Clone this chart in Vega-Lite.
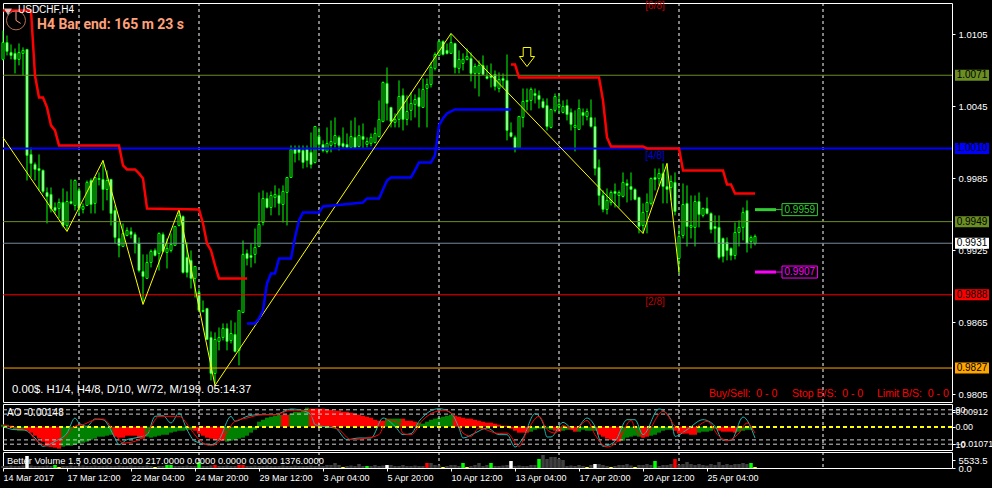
{"$schema":"https://vega.github.io/schema/vega-lite/v6.json","background":"#000000","padding":{"left":-3,"top":0,"right":2,"bottom":5},"spacing":2,"bounds":"flush","resolve":{"scale":{"fill":"independent","stroke":"independent","x":"independent","y":"independent"}},
"config":{"font":"Liberation Sans","view":{"stroke":"#ffffff","strokeWidth":1},"axis":{"grid":false,"domain":false,"labelColor":"#ffffff","tickColor":"#ffffff","labelFont":"Liberation Sans","labelFontSize":9.5,"tickSize":3,"labelPadding":3,"labelOverlap":false,"labelFlush":false},"axisX":{"labels":false,"ticks":false},"text":{"font":"Liberation Sans","fontSize":10,"align":"left"}},
"datasets":{
"bars":[
{"i":0,"o":1.00842,"h":1.01083,"l":1.00833,"c":1.00983,"ao":0.0012,"ac":"g","v":1476,"vc":"n"},
{"i":1,"o":1.00983,"h":1.01041,"l":1.00875,"c":1.00909,"ao":0.0012,"ac":"g","v":1476,"vc":"n"},
{"i":2,"o":1.009,"h":1.00967,"l":1.00842,"c":1.00875,"ao":0.0006,"ac":"r","v":1845,"vc":"n"},
{"i":3,"o":1.00892,"h":1.00933,"l":1.00725,"c":1.00842,"ao":-0.0019,"ac":"g","v":1476,"vc":"n"},
{"i":4,"o":1.00842,"h":1.00975,"l":1.00792,"c":1.009,"ao":-0.0025,"ac":"g","v":1476,"vc":"n"},
{"i":5,"o":1.00892,"h":1.00942,"l":1.00708,"c":1.00917,"ao":-0.0025,"ac":"g","v":1845,"vc":"n"},
{"i":6,"o":1.00925,"h":1.00925,"l":0.99833,"c":1.00042,"ao":-0.0025,"ac":"r","v":8856,"vc":"w"},
{"i":7,"o":1.0005,"h":1.00108,"l":0.99858,"c":0.99975,"ao":-0.0037,"ac":"r","v":1845,"vc":"n"},
{"i":8,"o":0.99967,"h":0.99983,"l":0.99833,"c":0.99925,"ao":-0.0056,"ac":"r","v":1476,"vc":"n"},
{"i":9,"o":0.99933,"h":1.0005,"l":0.9975,"c":0.99917,"ao":-0.0074,"ac":"r","v":1476,"vc":"n"},
{"i":10,"o":0.99917,"h":0.99925,"l":0.99725,"c":0.99742,"ao":-0.0093,"ac":"r","v":1476,"vc":"n"},
{"i":11,"o":0.99733,"h":0.99775,"l":0.99475,"c":0.997,"ao":-0.0118,"ac":"r","v":1845,"vc":"n"},
{"i":12,"o":0.99717,"h":0.99775,"l":0.99567,"c":0.996,"ao":-0.0124,"ac":"r","v":1476,"vc":"n"},
{"i":13,"o":0.99608,"h":0.9965,"l":0.99558,"c":0.99583,"ao":-0.013,"ac":"r","v":2214,"vc":"g"},
{"i":14,"o":0.996,"h":0.99683,"l":0.99517,"c":0.9965,"ao":-0.0136,"ac":"r","v":738,"vc":"y"},
{"i":15,"o":0.9965,"h":0.99767,"l":0.99442,"c":0.99458,"ao":-0.0124,"ac":"g","v":1476,"vc":"n"},
{"i":16,"o":0.99458,"h":0.99742,"l":0.99417,"c":0.99658,"ao":-0.0118,"ac":"g","v":1476,"vc":"n"},
{"i":17,"o":0.99658,"h":0.99842,"l":0.99633,"c":0.99642,"ao":-0.0118,"ac":"g","v":1845,"vc":"n"},
{"i":18,"o":0.99625,"h":0.99842,"l":0.99583,"c":0.99833,"ao":-0.0112,"ac":"g","v":1476,"vc":"n"},
{"i":19,"o":0.9975,"h":0.99775,"l":0.99542,"c":0.996,"ao":-0.0105,"ac":"g","v":1476,"vc":"n"},
{"i":20,"o":0.99592,"h":0.99642,"l":0.99558,"c":0.99617,"ao":-0.0099,"ac":"g","v":1845,"vc":"n"},
{"i":21,"o":0.99625,"h":0.99833,"l":0.99625,"c":0.99817,"ao":-0.0093,"ac":"g","v":1476,"vc":"n"},
{"i":22,"o":0.99833,"h":0.9985,"l":0.99558,"c":0.99633,"ao":-0.0081,"ac":"g","v":1476,"vc":"n"},
{"i":23,"o":0.99642,"h":0.99858,"l":0.99558,"c":0.99858,"ao":-0.0074,"ac":"g","v":1845,"vc":"n"},
{"i":24,"o":0.9985,"h":0.999,"l":0.99792,"c":0.99842,"ao":-0.0062,"ac":"g","v":1476,"vc":"n"},
{"i":25,"o":0.99842,"h":1.0,"l":0.99583,"c":0.99758,"ao":-0.0062,"ac":"g","v":1476,"vc":"n"},
{"i":26,"o":0.99758,"h":0.99917,"l":0.99667,"c":0.99833,"ao":-0.0056,"ac":"g","v":1845,"vc":"n"},
{"i":27,"o":0.99842,"h":0.99842,"l":0.99458,"c":0.99558,"ao":-0.005,"ac":"g","v":1476,"vc":"n"},
{"i":28,"o":0.99583,"h":0.99625,"l":0.99308,"c":0.99358,"ao":-0.0062,"ac":"r","v":1476,"vc":"n"},
{"i":29,"o":0.9935,"h":0.99483,"l":0.99192,"c":0.99292,"ao":-0.0068,"ac":"r","v":1845,"vc":"n"},
{"i":30,"o":0.99283,"h":0.99475,"l":0.99283,"c":0.99392,"ao":-0.0068,"ac":"r","v":1476,"vc":"n"},
{"i":31,"o":0.99375,"h":0.99442,"l":0.99367,"c":0.99417,"ao":-0.0056,"ac":"r","v":1476,"vc":"n"},
{"i":32,"o":0.99408,"h":0.99442,"l":0.9935,"c":0.99383,"ao":-0.0056,"ac":"r","v":1845,"vc":"n"},
{"i":33,"o":0.99383,"h":0.994,"l":0.99225,"c":0.99308,"ao":-0.0056,"ac":"r","v":1476,"vc":"n"},
{"i":34,"o":0.99308,"h":0.99358,"l":0.99067,"c":0.99083,"ao":-0.0068,"ac":"r","v":1476,"vc":"n"},
{"i":35,"o":0.99075,"h":0.99217,"l":0.98817,"c":0.99033,"ao":-0.0074,"ac":"r","v":1476,"vc":"n"},
{"i":36,"o":0.99017,"h":0.99217,"l":0.99017,"c":0.9915,"ao":-0.0062,"ac":"g","v":1845,"vc":"n"},
{"i":37,"o":0.9915,"h":0.99258,"l":0.99108,"c":0.99242,"ao":-0.0068,"ac":"g","v":1476,"vc":"n"},
{"i":38,"o":0.9925,"h":0.99267,"l":0.992,"c":0.99208,"ao":-0.0062,"ac":"g","v":738,"vc":"y"},
{"i":39,"o":0.99225,"h":0.994,"l":0.99083,"c":0.99392,"ao":-0.0056,"ac":"g","v":1476,"vc":"n"},
{"i":40,"o":0.99383,"h":0.994,"l":0.99233,"c":0.99242,"ao":-0.005,"ac":"g","v":1476,"vc":"n"},
{"i":41,"o":0.99233,"h":0.9935,"l":0.991,"c":0.99267,"ao":-0.005,"ac":"g","v":2214,"vc":"g"},
{"i":42,"o":0.9925,"h":0.99392,"l":0.99233,"c":0.993,"ao":-0.0037,"ac":"g","v":2214,"vc":"g"},
{"i":43,"o":0.99292,"h":0.9945,"l":0.99292,"c":0.9945,"ao":-0.0031,"ac":"g","v":1476,"vc":"n"},
{"i":44,"o":0.99458,"h":0.99583,"l":0.9945,"c":0.99542,"ao":-0.0025,"ac":"g","v":1476,"vc":"n"},
{"i":45,"o":0.99533,"h":0.99542,"l":0.99058,"c":0.99067,"ao":-0.0025,"ac":"g","v":1476,"vc":"n"},
{"i":46,"o":0.99192,"h":0.99317,"l":0.99025,"c":0.99067,"ao":-0.0019,"ac":"g","v":1845,"vc":"n"},
{"i":47,"o":0.99167,"h":0.9925,"l":0.98933,"c":0.99017,"ao":-0.0019,"ac":"g","v":1476,"vc":"n"},
{"i":48,"o":0.99017,"h":0.99117,"l":0.98858,"c":0.99117,"ao":-0.0025,"ac":"r","v":1476,"vc":"n"},
{"i":49,"o":0.989,"h":0.98933,"l":0.9875,"c":0.9875,"ao":-0.0043,"ac":"r","v":4428,"vc":"g"},
{"i":50,"o":0.9875,"h":0.98833,"l":0.98733,"c":0.98742,"ao":-0.0056,"ac":"r","v":1476,"vc":"n"},
{"i":51,"o":0.98767,"h":0.98767,"l":0.98508,"c":0.98508,"ao":-0.0068,"ac":"r","v":1476,"vc":"n"},
{"i":52,"o":0.98525,"h":0.98575,"l":0.98167,"c":0.98225,"ao":-0.0074,"ac":"r","v":1845,"vc":"n"},
{"i":53,"o":0.98225,"h":0.98567,"l":0.98142,"c":0.98508,"ao":-0.0081,"ac":"r","v":2214,"vc":"r"},
{"i":54,"o":0.98492,"h":0.98608,"l":0.98417,"c":0.98525,"ao":-0.0087,"ac":"r","v":1476,"vc":"n"},
{"i":55,"o":0.98525,"h":0.98642,"l":0.985,"c":0.986,"ao":-0.0087,"ac":"r","v":1476,"vc":"n"},
{"i":56,"o":0.986,"h":0.98642,"l":0.98417,"c":0.98492,"ao":-0.0093,"ac":"g","v":1845,"vc":"n"},
{"i":57,"o":0.985,"h":0.98667,"l":0.98475,"c":0.98558,"ao":-0.0087,"ac":"g","v":1476,"vc":"n"},
{"i":58,"o":0.9855,"h":0.9865,"l":0.984,"c":0.98408,"ao":-0.0081,"ac":"g","v":1476,"vc":"n"},
{"i":59,"o":0.98417,"h":0.9875,"l":0.98292,"c":0.9875,"ao":-0.0074,"ac":"g","v":2214,"vc":"r"},
{"i":60,"o":0.98733,"h":0.99333,"l":0.98733,"c":0.99217,"ao":-0.0068,"ac":"g","v":2214,"vc":"r"},
{"i":61,"o":0.99225,"h":0.99258,"l":0.99125,"c":0.99183,"ao":-0.0056,"ac":"g","v":1476,"vc":"n"},
{"i":62,"o":0.99208,"h":0.99308,"l":0.99108,"c":0.99192,"ao":-0.0037,"ac":"g","v":1476,"vc":"n"},
{"i":63,"o":0.99217,"h":0.99433,"l":0.99142,"c":0.99275,"ao":-0.0019,"ac":"g","v":1845,"vc":"n"},
{"i":64,"o":0.99283,"h":0.99733,"l":0.99283,"c":0.99467,"ao":0.0031,"ac":"g","v":1476,"vc":"n"},
{"i":65,"o":0.99483,"h":0.9975,"l":0.99458,"c":0.99683,"ao":0.0043,"ac":"g","v":1476,"vc":"n"},
{"i":66,"o":0.99683,"h":0.99733,"l":0.996,"c":0.99608,"ao":0.0056,"ac":"g","v":1845,"vc":"n"},
{"i":67,"o":0.99608,"h":0.99742,"l":0.99542,"c":0.99708,"ao":0.0062,"ac":"g","v":1476,"vc":"n"},
{"i":68,"o":0.99692,"h":0.99792,"l":0.99608,"c":0.99717,"ao":0.0068,"ac":"g","v":1476,"vc":"n"},
{"i":69,"o":0.99708,"h":0.99767,"l":0.99542,"c":0.99642,"ao":0.0074,"ac":"g","v":1476,"vc":"n"},
{"i":70,"o":0.99633,"h":0.99792,"l":0.99483,"c":0.99742,"ao":0.0074,"ac":"r","v":1845,"vc":"n"},
{"i":71,"o":0.99733,"h":0.99858,"l":0.99458,"c":0.99858,"ao":0.0074,"ac":"r","v":1476,"vc":"n"},
{"i":72,"o":0.99858,"h":1.00125,"l":0.99858,"c":1.00092,"ao":0.0081,"ac":"g","v":1476,"vc":"n"},
{"i":73,"o":1.001,"h":1.00125,"l":0.99983,"c":1.00058,"ao":0.0093,"ac":"g","v":1845,"vc":"n"},
{"i":74,"o":1.001,"h":1.00125,"l":1.0,"c":1.00067,"ao":0.0093,"ac":"g","v":1476,"vc":"n"},
{"i":75,"o":1.00083,"h":1.00125,"l":0.99933,"c":0.99983,"ao":0.0099,"ac":"g","v":1476,"vc":"n"},
{"i":76,"o":1.00092,"h":1.00125,"l":0.99942,"c":1.0,"ao":0.0118,"ac":"g","v":1476,"vc":"n"},
{"i":77,"o":1.00067,"h":1.00233,"l":0.99933,"c":0.99967,"ao":0.0112,"ac":"r","v":1845,"vc":"n"},
{"i":78,"o":0.99983,"h":1.00283,"l":0.99975,"c":1.00283,"ao":0.0112,"ac":"r","v":1476,"vc":"n"},
{"i":79,"o":1.002,"h":1.00275,"l":1.00083,"c":1.00133,"ao":0.0112,"ac":"r","v":1476,"vc":"n"},
{"i":80,"o":1.00133,"h":1.00167,"l":1.00067,"c":1.00083,"ao":0.0112,"ac":"r","v":1476,"vc":"n"},
{"i":81,"o":1.00075,"h":1.00275,"l":1.00058,"c":1.00142,"ao":0.0105,"ac":"r","v":2214,"vc":"n"},
{"i":82,"o":1.00125,"h":1.00333,"l":1.00067,"c":1.00158,"ao":0.0105,"ac":"r","v":2214,"vc":"n"},
{"i":83,"o":1.00142,"h":1.00358,"l":1.00108,"c":1.00208,"ao":0.0099,"ac":"r","v":3690,"vc":"n"},
{"i":84,"o":1.00192,"h":1.00208,"l":1.00083,"c":1.00125,"ao":0.0099,"ac":"r","v":2214,"vc":"n"},
{"i":85,"o":1.00142,"h":1.00275,"l":1.001,"c":1.00117,"ao":0.0093,"ac":"r","v":738,"vc":"y"},
{"i":86,"o":1.00133,"h":1.00225,"l":1.001,"c":1.00108,"ao":0.0093,"ac":"r","v":1476,"vc":"n"},
{"i":87,"o":1.00108,"h":1.00333,"l":1.001,"c":1.002,"ao":0.0087,"ac":"r","v":1845,"vc":"n"},
{"i":88,"o":1.00192,"h":1.00358,"l":1.001,"c":1.00108,"ao":0.0081,"ac":"r","v":1476,"vc":"n"},
{"i":89,"o":1.00117,"h":1.00292,"l":1.00108,"c":1.00208,"ao":0.0074,"ac":"r","v":2952,"vc":"n"},
{"i":90,"o":1.002,"h":1.00308,"l":1.001,"c":1.00175,"ao":0.0068,"ac":"r","v":1476,"vc":"n"},
{"i":91,"o":1.00133,"h":1.00192,"l":1.00108,"c":1.00158,"ao":0.0062,"ac":"r","v":1476,"vc":"g"},
{"i":92,"o":1.00142,"h":1.00225,"l":1.00117,"c":1.00192,"ao":0.0056,"ac":"r","v":1476,"vc":"n"},
{"i":93,"o":1.0015,"h":1.00275,"l":1.00142,"c":1.00225,"ao":0.0043,"ac":"r","v":2214,"vc":"n"},
{"i":94,"o":1.002,"h":1.005,"l":1.00192,"c":1.00342,"ao":0.0037,"ac":"r","v":1476,"vc":"n"},
{"i":95,"o":1.00325,"h":1.00658,"l":1.00317,"c":1.0065,"ao":0.0037,"ac":"r","v":1845,"vc":"n"},
{"i":96,"o":1.00642,"h":1.00775,"l":1.00333,"c":1.00475,"ao":0.005,"ac":"g","v":2214,"vc":"w"},
{"i":97,"o":1.00442,"h":1.00442,"l":1.00275,"c":1.00325,"ao":0.005,"ac":"g","v":2214,"vc":"n"},
{"i":98,"o":1.00317,"h":1.00392,"l":1.00275,"c":1.00342,"ao":0.005,"ac":"g","v":1476,"vc":"n"},
{"i":99,"o":1.00342,"h":1.00667,"l":1.00275,"c":1.00533,"ao":0.005,"ac":"g","v":1476,"vc":"n"},
{"i":100,"o":1.00542,"h":1.006,"l":1.0025,"c":1.00342,"ao":0.005,"ac":"r","v":2214,"vc":"n"},
{"i":101,"o":1.00342,"h":1.00542,"l":1.00292,"c":1.00408,"ao":0.0037,"ac":"r","v":1476,"vc":"n"},
{"i":102,"o":1.00417,"h":1.00567,"l":1.00333,"c":1.00475,"ao":0.0037,"ac":"r","v":1476,"vc":"n"},
{"i":103,"o":1.00467,"h":1.0055,"l":1.00358,"c":1.00508,"ao":0.0031,"ac":"r","v":1845,"vc":"n"},
{"i":104,"o":1.00525,"h":1.006,"l":1.00275,"c":1.0045,"ao":0.0025,"ac":"g","v":1476,"vc":"n"},
{"i":105,"o":1.00442,"h":1.00683,"l":1.00442,"c":1.00592,"ao":0.0019,"ac":"g","v":1476,"vc":"n"},
{"i":106,"o":1.006,"h":1.00683,"l":1.00275,"c":1.00633,"ao":0.0031,"ac":"g","v":3690,"vc":"r"},
{"i":107,"o":1.00633,"h":1.00817,"l":1.00608,"c":1.00775,"ao":0.0043,"ac":"g","v":3690,"vc":"n"},
{"i":108,"o":1.00767,"h":1.009,"l":1.0075,"c":1.00883,"ao":0.005,"ac":"g","v":2214,"vc":"n"},
{"i":109,"o":1.00875,"h":1.01,"l":1.00867,"c":1.00992,"ao":0.0056,"ac":"g","v":1845,"vc":"n"},
{"i":110,"o":1.00992,"h":1.01,"l":1.00875,"c":1.00883,"ao":0.0062,"ac":"g","v":738,"vc":"y"},
{"i":111,"o":1.00917,"h":1.00975,"l":1.00883,"c":1.00892,"ao":0.0068,"ac":"g","v":1476,"vc":"n"},
{"i":112,"o":1.00892,"h":1.01058,"l":1.00892,"c":1.00983,"ao":0.0074,"ac":"g","v":2214,"vc":"n"},
{"i":113,"o":1.00975,"h":1.00975,"l":1.00725,"c":1.00775,"ao":0.0068,"ac":"r","v":2214,"vc":"n"},
{"i":114,"o":1.00767,"h":1.00917,"l":1.00725,"c":1.00842,"ao":0.0062,"ac":"r","v":1476,"vc":"n"},
{"i":115,"o":1.00808,"h":1.00892,"l":1.0075,"c":1.00842,"ao":0.0056,"ac":"r","v":3690,"vc":"g"},
{"i":116,"o":1.00842,"h":1.00933,"l":1.00833,"c":1.00867,"ao":0.005,"ac":"r","v":738,"vc":"y"},
{"i":117,"o":1.0085,"h":1.009,"l":1.00658,"c":1.00725,"ao":0.005,"ac":"r","v":1476,"vc":"n"},
{"i":118,"o":1.00725,"h":1.00808,"l":1.006,"c":1.00783,"ao":0.0043,"ac":"r","v":2214,"vc":"n"},
{"i":119,"o":1.00725,"h":1.00833,"l":1.00533,"c":1.00792,"ao":0.0037,"ac":"r","v":3690,"vc":"n"},
{"i":120,"o":1.00792,"h":1.00875,"l":1.00725,"c":1.00717,"ao":0.0031,"ac":"r","v":1476,"vc":"n"},
{"i":121,"o":1.007,"h":1.00792,"l":1.00675,"c":1.00683,"ao":0.0025,"ac":"r","v":2214,"vc":"n"},
{"i":122,"o":1.00708,"h":1.00808,"l":1.00608,"c":1.00692,"ao":0.0025,"ac":"r","v":3690,"vc":"g"},
{"i":123,"o":1.00717,"h":1.0075,"l":1.00583,"c":1.00617,"ao":0.0019,"ac":"r","v":1476,"vc":"n"},
{"i":124,"o":1.006,"h":1.00733,"l":1.00567,"c":1.00675,"ao":0.0012,"ac":"r","v":1476,"vc":"n"},
{"i":125,"o":1.00683,"h":1.00725,"l":1.00608,"c":1.00667,"ao":0.0006,"ac":"r","v":1845,"vc":"n"},
{"i":126,"o":1.00667,"h":1.00883,"l":1.00167,"c":1.0025,"ao":0.0006,"ac":"r","v":2214,"vc":"n"},
{"i":127,"o":1.00233,"h":1.00317,"l":1.00192,"c":1.002,"ao":-0.0012,"ac":"r","v":5166,"vc":"w"},
{"i":128,"o":1.00192,"h":1.00208,"l":1.00067,"c":1.001,"ao":-0.0025,"ac":"r","v":1476,"vc":"n"},
{"i":129,"o":1.001,"h":1.00367,"l":1.001,"c":1.00367,"ao":-0.0037,"ac":"r","v":1845,"vc":"n"},
{"i":130,"o":1.00358,"h":1.006,"l":1.00275,"c":1.00492,"ao":-0.0037,"ac":"r","v":1476,"vc":"n"},
{"i":131,"o":1.005,"h":1.006,"l":1.00417,"c":1.00492,"ao":-0.0037,"ac":"r","v":1476,"vc":"n"},
{"i":132,"o":1.005,"h":1.00608,"l":1.00417,"c":1.00592,"ao":-0.0031,"ac":"g","v":2214,"vc":"n"},
{"i":133,"o":1.00558,"h":1.006,"l":1.00475,"c":1.00542,"ao":-0.0019,"ac":"g","v":2214,"vc":"n"},
{"i":134,"o":1.00542,"h":1.00583,"l":1.00433,"c":1.00508,"ao":-0.0012,"ac":"g","v":6642,"vc":"g"},
{"i":135,"o":1.00492,"h":1.00517,"l":1.00433,"c":1.00442,"ao":-0.0012,"ac":"g","v":9594,"vc":"n"},
{"i":136,"o":1.00458,"h":1.00517,"l":1.0025,"c":1.00283,"ao":-0.0012,"ac":"g","v":6642,"vc":"n"},
{"i":137,"o":1.00275,"h":1.00425,"l":1.00267,"c":1.00425,"ao":-0.0019,"ac":"g","v":8118,"vc":"n"},
{"i":138,"o":1.00417,"h":1.00558,"l":1.004,"c":1.00533,"ao":-0.0025,"ac":"r","v":8118,"vc":"n"},
{"i":139,"o":1.0045,"h":1.00558,"l":1.00392,"c":1.00467,"ao":-0.0031,"ac":"r","v":6642,"vc":"n"},
{"i":140,"o":1.004,"h":1.005,"l":1.00392,"c":1.0045,"ao":-0.0025,"ac":"g","v":5904,"vc":"n"},
{"i":141,"o":1.00458,"h":1.00508,"l":1.00333,"c":1.00383,"ao":-0.0019,"ac":"g","v":1476,"vc":"n"},
{"i":142,"o":1.004,"h":1.00433,"l":1.0025,"c":1.003,"ao":-0.0019,"ac":"r","v":1845,"vc":"n"},
{"i":143,"o":1.00275,"h":1.00417,"l":1.00075,"c":1.00292,"ao":-0.0031,"ac":"r","v":1476,"vc":"n"},
{"i":144,"o":1.00258,"h":1.00508,"l":1.00258,"c":1.00433,"ao":-0.0031,"ac":"g","v":2214,"vc":"n"},
{"i":145,"o":1.004,"h":1.00433,"l":1.00292,"c":1.00375,"ao":-0.0019,"ac":"g","v":1476,"vc":"n"},
{"i":146,"o":1.00367,"h":1.00433,"l":1.00333,"c":1.00408,"ao":-0.0025,"ac":"g","v":738,"vc":"y"},
{"i":147,"o":1.00358,"h":1.00508,"l":1.00275,"c":1.00283,"ao":-0.0025,"ac":"g","v":2214,"vc":"n"},
{"i":148,"o":1.00283,"h":1.00358,"l":0.99875,"c":0.99933,"ao":-0.0025,"ac":"g","v":2952,"vc":"w"},
{"i":149,"o":0.99942,"h":1.00008,"l":0.99625,"c":0.99708,"ao":-0.005,"ac":"r","v":2952,"vc":"n"},
{"i":150,"o":0.99708,"h":0.9975,"l":0.99567,"c":0.99592,"ao":-0.0062,"ac":"r","v":2214,"vc":"n"},
{"i":151,"o":0.99592,"h":0.99767,"l":0.9955,"c":0.99667,"ao":-0.0074,"ac":"r","v":1476,"vc":"n"},
{"i":152,"o":0.9965,"h":0.9975,"l":0.99625,"c":0.99733,"ao":-0.0081,"ac":"r","v":738,"vc":"y"},
{"i":153,"o":0.99742,"h":0.99808,"l":0.99608,"c":0.99725,"ao":-0.0087,"ac":"r","v":1476,"vc":"n"},
{"i":154,"o":0.99708,"h":0.9975,"l":0.99608,"c":0.99733,"ao":-0.0093,"ac":"r","v":2214,"vc":"n"},
{"i":155,"o":0.997,"h":0.999,"l":0.99692,"c":0.99817,"ao":-0.0087,"ac":"g","v":2214,"vc":"n"},
{"i":156,"o":0.99808,"h":0.99842,"l":0.9965,"c":0.99792,"ao":-0.0068,"ac":"g","v":2952,"vc":"n"},
{"i":157,"o":0.99783,"h":0.999,"l":0.99667,"c":0.99758,"ao":-0.0062,"ac":"g","v":1845,"vc":"n"},
{"i":158,"o":0.99758,"h":0.99767,"l":0.99667,"c":0.99675,"ao":-0.0056,"ac":"g","v":738,"vc":"y"},
{"i":159,"o":0.99692,"h":0.99692,"l":0.99392,"c":0.9945,"ao":-0.0062,"ac":"g","v":2214,"vc":"n"},
{"i":160,"o":0.99458,"h":0.99642,"l":0.99392,"c":0.99567,"ao":-0.0068,"ac":"r","v":2214,"vc":"n"},
{"i":161,"o":0.99575,"h":0.99725,"l":0.99392,"c":0.9965,"ao":-0.0062,"ac":"r","v":2952,"vc":"n"},
{"i":162,"o":0.99642,"h":0.99858,"l":0.99625,"c":0.9985,"ao":-0.0056,"ac":"g","v":2214,"vc":"n"},
{"i":163,"o":0.99858,"h":0.99933,"l":0.9975,"c":0.99842,"ao":-0.005,"ac":"g","v":5166,"vc":"g"},
{"i":164,"o":0.9985,"h":0.99933,"l":0.99792,"c":0.99892,"ao":-0.0037,"ac":"g","v":1476,"vc":"n"},
{"i":165,"o":0.99892,"h":0.99975,"l":0.99642,"c":0.99783,"ao":-0.0025,"ac":"g","v":2214,"vc":"n"},
{"i":166,"o":0.99783,"h":0.99975,"l":0.99642,"c":0.99758,"ao":-0.0019,"ac":"g","v":2214,"vc":"n"},
{"i":167,"o":0.99775,"h":0.99875,"l":0.99667,"c":0.99825,"ao":-0.0019,"ac":"g","v":2952,"vc":"n"},
{"i":168,"o":0.99817,"h":0.999,"l":0.99542,"c":0.99575,"ao":-0.0025,"ac":"r","v":6642,"vc":"r"},
{"i":169,"o":0.99183,"h":0.99442,"l":0.99058,"c":0.99367,"ao":-0.0043,"ac":"r","v":2214,"vc":"n"},
{"i":170,"o":0.99375,"h":0.99808,"l":0.9935,"c":0.99633,"ao":-0.0043,"ac":"r","v":2952,"vc":"n"},
{"i":171,"o":0.99642,"h":0.99792,"l":0.99283,"c":0.9945,"ao":-0.0043,"ac":"r","v":4428,"vc":"n"},
{"i":172,"o":0.99442,"h":0.99708,"l":0.9935,"c":0.99458,"ao":-0.005,"ac":"r","v":2952,"vc":"n"},
{"i":173,"o":0.99442,"h":0.99708,"l":0.99283,"c":0.99658,"ao":-0.005,"ac":"r","v":2214,"vc":"n"},
{"i":174,"o":0.99658,"h":0.99733,"l":0.99442,"c":0.9955,"ao":-0.0037,"ac":"g","v":2952,"vc":"n"},
{"i":175,"o":0.99542,"h":0.99608,"l":0.99525,"c":0.996,"ao":-0.0031,"ac":"g","v":2214,"vc":"n"},
{"i":176,"o":0.996,"h":0.99692,"l":0.9955,"c":0.99558,"ao":-0.0031,"ac":"g","v":1845,"vc":"n"},
{"i":177,"o":0.99558,"h":0.99567,"l":0.99392,"c":0.99425,"ao":-0.0025,"ac":"g","v":2952,"vc":"n"},
{"i":178,"o":0.9945,"h":0.99542,"l":0.99308,"c":0.99433,"ao":-0.0012,"ac":"g","v":2214,"vc":"n"},
{"i":179,"o":0.99442,"h":0.99542,"l":0.99175,"c":0.99192,"ao":-0.0025,"ac":"r","v":4428,"vc":"n"},
{"i":180,"o":0.9935,"h":0.99358,"l":0.9915,"c":0.992,"ao":-0.0031,"ac":"r","v":2214,"vc":"n"},
{"i":181,"o":0.99317,"h":0.99358,"l":0.99167,"c":0.9925,"ao":-0.0031,"ac":"r","v":2952,"vc":"n"},
{"i":182,"o":0.99267,"h":0.99275,"l":0.99167,"c":0.99208,"ao":-0.0031,"ac":"r","v":2214,"vc":"n"},
{"i":183,"o":0.99208,"h":0.99483,"l":0.99175,"c":0.994,"ao":-0.0037,"ac":"r","v":2952,"vc":"n"},
{"i":184,"o":0.994,"h":0.995,"l":0.99283,"c":0.99442,"ao":-0.0031,"ac":"g","v":2952,"vc":"n"},
{"i":185,"o":0.99442,"h":0.99608,"l":0.99333,"c":0.99567,"ao":-0.0025,"ac":"g","v":3690,"vc":"n"},
{"i":186,"o":0.99583,"h":0.99667,"l":0.99233,"c":0.99308,"ao":-0.0019,"ac":"g","v":2952,"vc":"n"},
{"i":187,"o":0.99325,"h":0.99375,"l":0.99267,"c":0.99358,"ao":-0.0019,"ac":"g","v":3690,"vc":"g"},
{"i":188,"o":0.99308,"h":0.99383,"l":0.99292,"c":0.99367,"ao":-0.0006,"ac":"g","v":738,"vc":"y"}
],
"stops":[
{"i":0,"p":1.0125,"s":"a"},{"i":7,"p":1.0125,"s":"a"},{"i":8,"p":1.00708,"s":"a"},{"i":9,"p":1.00525,"s":"a"},{"i":10,"p":1.00525,"s":"a"},{"i":11,"p":1.00442,"s":"a"},{"i":12,"p":1.00292,"s":"a"},{"i":13,"p":1.0025,"s":"a"},{"i":14,"p":1.00125,"s":"a"},{"i":29,"p":1.00125,"s":"a"},{"i":30,"p":0.99958,"s":"a"},{"i":31,"p":0.99925,"s":"a"},{"i":33,"p":0.99925,"s":"a"},{"i":34,"p":0.99892,"s":"a"},{"i":35,"p":0.9985,"s":"a"},{"i":36,"p":0.996,"s":"a"},{"i":49,"p":0.99592,"s":"a"},{"i":50,"p":0.99475,"s":"a"},{"i":51,"p":0.99308,"s":"a"},{"i":52,"p":0.9925,"s":"a"},{"i":53,"p":0.99125,"s":"a"},{"i":54,"p":0.99017,"s":"a"},{"i":61,"p":0.99017,"s":"a"},
{"i":127,"p":1.008,"s":"b"},{"i":128,"p":1.008,"s":"b"},{"i":129,"p":1.00692,"s":"b"},{"i":149,"p":1.00692,"s":"b"},{"i":150,"p":1.005,"s":"b"},{"i":151,"p":1.00192,"s":"b"},{"i":152,"p":1.00117,"s":"b"},{"i":160,"p":1.00117,"s":"b"},{"i":161,"p":1.001,"s":"b"},{"i":169,"p":1.001,"s":"b"},{"i":170,"p":0.99917,"s":"b"},{"i":180,"p":0.99917,"s":"b"},{"i":181,"p":0.998,"s":"b"},{"i":182,"p":0.998,"s":"b"},{"i":183,"p":0.99725,"s":"b"},{"i":188,"p":0.99725,"s":"b"}],
"trail":[{"i":61,"p":0.98642},{"i":63,"p":0.98642},{"i":64,"p":0.98683},{"i":65,"p":0.9875},{"i":66,"p":0.98975},{"i":67,"p":0.99058},{"i":68,"p":0.99058},{"i":69,"p":0.99183},{"i":72,"p":0.99183},{"i":73,"p":0.99358},{"i":74,"p":0.995},{"i":75,"p":0.99567},{"i":79,"p":0.99567},{"i":80,"p":0.99617},{"i":85,"p":0.99633},{"i":90,"p":0.9965},{"i":91,"p":0.99683},{"i":94,"p":0.99683},{"i":96,"p":0.99833},{"i":97,"p":0.99858},{"i":102,"p":0.99858},{"i":103,"p":0.99917},{"i":104,"p":0.99983},{"i":107,"p":0.99983},{"i":108,"p":1.00042},{"i":109,"p":1.00292},{"i":110,"p":1.0035},{"i":111,"p":1.00392},{"i":113,"p":1.00425},{"i":127,"p":1.00425}],
"zigzag":[{"i":0,"p":1.00191},{"i":16,"p":0.99408},{"i":25,"p":1.0},{"i":35,"p":0.988},{"i":44,"p":0.99592},{"i":53,"p":0.98125},{"i":112,"p":1.01058},{"i":160,"p":0.99392},{"i":166,"p":0.99975},{"i":169,"p":0.99067}],
"fast":[{"i":0,"v":51.6},{"i":3,"v":43.8},{"i":5,"v":43.8},{"i":8,"v":24.4},{"i":10,"v":5},{"i":13,"v":16.7},{"i":16,"v":36},{"i":18,"v":70.9},{"i":19,"v":59.3},{"i":21,"v":51.6},{"i":23,"v":68.6},{"i":25,"v":67},{"i":28,"v":24.4},{"i":29,"v":8.9},{"i":31,"v":20.6},{"i":33,"v":24.4},{"i":36,"v":32.2},{"i":38,"v":74.8},{"i":40,"v":76.4},{"i":42,"v":59.3},{"i":44,"v":82.6},{"i":46,"v":43.8},{"i":48,"v":16.7},{"i":52,"v":8.9},{"i":54,"v":20.6},{"i":57,"v":74.8},{"i":58,"v":63.2},{"i":61,"v":74.8},{"i":64,"v":78.7},{"i":68,"v":78.7},{"i":72,"v":91.9},{"i":74,"v":90.3},{"i":77,"v":78.7},{"i":78,"v":55.4},{"i":81,"v":50},{"i":83,"v":47.7},{"i":86,"v":20.6},{"i":89,"v":24.4},{"i":92,"v":24.4},{"i":95,"v":70.9},{"i":98,"v":51.6},{"i":100,"v":32.2},{"i":102,"v":34.5},{"i":104,"v":63.2},{"i":109,"v":92.6},{"i":112,"v":82.6},{"i":114,"v":47.7},{"i":115,"v":24.4},{"i":118,"v":36},{"i":121,"v":47.7},{"i":124,"v":32.2},{"i":126,"v":32.2},{"i":128,"v":3.5},{"i":130,"v":24.4},{"i":133,"v":81},{"i":135,"v":59.3},{"i":136,"v":26.8},{"i":137,"v":26.8},{"i":140,"v":60.9},{"i":142,"v":47.7},{"i":143,"v":43.8},{"i":146,"v":70.9},{"i":148,"v":51.6},{"i":150,"v":5},{"i":153,"v":16.7},{"i":156,"v":67},{"i":158,"v":67},{"i":160,"v":32.2},{"i":164,"v":91.9},{"i":167,"v":67},{"i":168,"v":28.3},{"i":171,"v":43.8},{"i":175,"v":67},{"i":178,"v":51.6},{"i":180,"v":19},{"i":182,"v":19},{"i":185,"v":73.3},{"i":188,"v":24.4}],
"slow":[{"i":0,"v":55.4},{"i":3,"v":47.7},{"i":6,"v":43.8},{"i":8,"v":20.6},{"i":12,"v":5},{"i":15,"v":20.6},{"i":18,"v":51.6},{"i":20,"v":55.4},{"i":23,"v":67},{"i":25,"v":68.6},{"i":28,"v":36},{"i":30,"v":12.8},{"i":33,"v":16.7},{"i":36,"v":36},{"i":39,"v":74.8},{"i":42,"v":74.8},{"i":44,"v":74.8},{"i":47,"v":43.8},{"i":49,"v":20.6},{"i":52,"v":6.6},{"i":55,"v":24.4},{"i":58,"v":63.2},{"i":61,"v":70.9},{"i":65,"v":78.7},{"i":68,"v":78.7},{"i":72,"v":88.8},{"i":76,"v":88.8},{"i":78,"v":67},{"i":82,"v":51.6},{"i":84,"v":43.8},{"i":87,"v":20.6},{"i":91,"v":24.4},{"i":94,"v":32.2},{"i":96,"v":67},{"i":99,"v":59.3},{"i":100,"v":34.5},{"i":102,"v":32.2},{"i":105,"v":67},{"i":110,"v":88.8},{"i":113,"v":74.8},{"i":115,"v":36},{"i":117,"v":28.3},{"i":119,"v":47.7},{"i":124,"v":34.5},{"i":126,"v":36},{"i":129,"v":5},{"i":131,"v":39.9},{"i":134,"v":74.8},{"i":136,"v":43.8},{"i":138,"v":36},{"i":140,"v":53.1},{"i":143,"v":43.8},{"i":146,"v":65.5},{"i":148,"v":32.2},{"i":151,"v":3.5},{"i":154,"v":20.6},{"i":157,"v":65.5},{"i":158,"v":47.7},{"i":160,"v":26.8},{"i":165,"v":86.4},{"i":168,"v":51.6},{"i":170,"v":36},{"i":173,"v":47.7},{"i":176,"v":63.2},{"i":179,"v":28.3},{"i":181,"v":18.2},{"i":184,"v":36},{"i":186,"v":59.3},{"i":188,"v":36}],
"weeks":[{"i":19},{"i":49},{"i":79},{"i":109},{"i":139},{"i":169},{"i":205}],
"levels":[{"price":1.0071,"label":"1.0071","kind":"upper"},{"price":1.001,"label":"1.0010","kind":"pivot"},{"price":0.9949,"label":"0.9949","kind":"lower"},{"price":0.9931,"label":"0.9931","kind":"last"},{"price":0.9888,"label":"0.9888","kind":"support"},{"price":0.9827,"label":"0.9827","kind":"floor"}],
"targets":[{"price":0.9959,"label":"0.9959","kind":"high"},{"price":0.9907,"label":"0.9907","kind":"low"}]
},
"vconcat":[
{"width":949,"height":399,"layer":[
{"data":{"name":"weeks"},"mark":{"type":"rule","stroke":"#ffffff","strokeDash":[3,3],"strokeWidth":1},"encoding":{"x":{"field":"i","type":"quantitative","title":null,"scale":{"domain":[0,237.25],"nice":false,"zero":false,"padding":0}}}},
{"data":{"name":"bars"},"mark":{"type":"rule","stroke":"#00ff00","strokeWidth":1},"encoding":{"x":{"field":"i","type":"quantitative"},"y":{"field":"h","type":"quantitative","title":null,"scale":{"domain":[0.97987,1.01312],"nice":false,"zero":false,"padding":0},"axis":{"orient":"right","title":null,"values":[1.0105,1.0075,1.0045,1.0015,0.9985,0.9955,0.9925,0.9895,0.9865,0.9835,0.9805],"format":".4f"}},"y2":{"field":"l"}}},
{"data":{"name":"bars"},"mark":{"type":"bar","size":2,"strokeWidth":1,"stroke":"#00ff00"},"encoding":{"x":{"field":"i","type":"quantitative"},"y":{"field":"o","type":"quantitative"},"y2":{"field":"c"},"fill":{"condition":{"test":"datum.c<datum.o","value":"#ffffff"},"value":"#000000"}}},
{"data":{"name":"levels"},"mark":{"type":"rule"},"encoding":{"y":{"field":"price","type":"quantitative"},"stroke":{"field":"kind","type":"nominal","legend":null,"scale":{"domain":["upper","pivot","lower","last","support","floor","high","low"],"range":["#6b8e23","#0000ff","#6b8e23","#778899","#ff0000","#ffa500","#32cd32","#ff00ff"]}},"strokeWidth":{"condition":{"test":"datum.kind=='pivot'","value":2},"value":1}}},
{"data":{"name":"zigzag"},"mark":{"type":"line","stroke":"#ffff00","strokeWidth":1},"encoding":{"x":{"field":"i","type":"quantitative"},"y":{"field":"p","type":"quantitative"}}},
{"data":{"name":"stops"},"mark":{"type":"line","stroke":"#ff0000","strokeWidth":2.5},"encoding":{"x":{"field":"i","type":"quantitative"},"y":{"field":"p","type":"quantitative"},"detail":{"field":"s"}}},
{"data":{"name":"trail"},"mark":{"type":"line","stroke":"#0000ff","strokeWidth":2.5},"encoding":{"x":{"field":"i","type":"quantitative"},"y":{"field":"p","type":"quantitative"}}},
{"data":{"name":"levels"},"mark":{"type":"bar","size":11},"encoding":{"x":{"datum":238},"x2":{"datum":246.5},"y":{"field":"price","type":"quantitative"},"fill":{"field":"kind","type":"nominal","legend":null,"scale":{"domain":["upper","pivot","lower","last","support","floor","high","low"],"range":["#6b8e23","#0000ff","#6b8e23","#ffffff","#ff0000","#ffa500","#32cd32","#ff00ff"]}}}},
{"data":{"name":"levels"},"mark":{"type":"text","align":"center","fontSize":10,"fill":"#000000"},"encoding":{"x":{"datum":242.25},"y":{"field":"price","type":"quantitative"},"text":{"field":"label"}}},
{"data":{"name":"targets"},"mark":{"type":"rule","strokeWidth":3},"encoding":{"x":{"datum":188},"x2":{"datum":193.25},"y":{"field":"price","type":"quantitative"},"stroke":{"field":"kind","type":"nominal","legend":null}}},
{"data":{"name":"targets"},"mark":{"type":"rule","strokeWidth":1},"encoding":{"x":{"datum":193.25},"x2":{"datum":194.75},"y":{"field":"price","type":"quantitative"},"stroke":{"field":"kind","type":"nominal","legend":null}}},
{"data":{"name":"targets"},"mark":{"type":"bar","size":12,"fill":"#000000","strokeWidth":1},"encoding":{"x":{"datum":194.75},"x2":{"datum":203.6},"y":{"field":"price","type":"quantitative"},"stroke":{"field":"kind","type":"nominal","legend":null}}},
{"data":{"name":"targets"},"mark":{"type":"text","align":"center","fontSize":10},"encoding":{"x":{"datum":199.2},"y":{"field":"price","type":"quantitative"},"text":{"field":"label"},"fill":{"field":"kind","type":"nominal","legend":null}}},
{"data":{"values":[{"t":"USDCHF,H4"}]},"mark":{"type":"text","fill":"#ffffff"},"encoding":{"x":{"datum":3.75},"y":{"datum":1.0125},"text":{"field":"t"}}},
{"data":{"values":[{"t":"clock"}]},"mark":{"type":"point","shape":"triangle-down","fill":"#ffffff","stroke":"#ffffff","size":20},"encoding":{"x":{"datum":1.25},"y":{"datum":1.01242}}},
{"data":{"values":[{"t":"clock"}]},"mark":{"type":"point","shape":"circle","stroke":"#ffa07a","fill":"transparent","size":360,"strokeWidth":1},"encoding":{"x":{"datum":3.25},"y":{"datum":1.01167}}},
{"data":{"values":[{"t":"clock"}]},"mark":{"type":"rule","stroke":"#ffa07a"},"encoding":{"x":{"datum":3.25},"y":{"datum":1.01167},"y2":{"datum":1.0124}}},
{"data":{"values":[{"t":"clock"}]},"mark":{"type":"rule","stroke":"#ffa07a"},"encoding":{"x":{"datum":3.25},"x2":{"datum":4.4},"y":{"datum":1.01167},"y2":{"datum":1.01142}}},
{"data":{"values":[{"t":"H4 Bar end: 165 m 23 s"}]},"mark":{"type":"text","font":"Roboto","fontWeight":"bold","fontSize":14,"fill":"#ffa07a"},"encoding":{"x":{"datum":8.5},"y":{"datum":1.01125},"text":{"field":"t"}}},
{"data":{"values":[{"t":"0.00$. H1/4, H4/8, D/10, W/72, M/199. 05:14:37"}]},"mark":{"type":"text","fill":"#ffffff","fontSize":11.3},"encoding":{"x":{"datum":2.25},"y":{"datum":0.98083},"text":{"field":"t"}}},
{"data":{"values":[{"t":"[6/8]"}]},"mark":{"type":"text","align":"center","fill":"#c00000"},"encoding":{"x":{"datum":163},"y":{"datum":1.01283},"text":{"field":"t"}}},
{"data":{"values":[{"t":"[4/8]"}]},"mark":{"type":"text","align":"center","fill":"#0000e0"},"encoding":{"x":{"datum":163},"y":{"datum":1.00033},"text":{"field":"t"}}},
{"data":{"values":[{"t":"[2/8]"}]},"mark":{"type":"text","align":"center","fill":"#c00000"},"encoding":{"x":{"datum":163},"y":{"datum":0.98817},"text":{"field":"t"}}},
{"data":{"values":[{"t":"Buy/Sell:\u00a0\u00a00\u00a0-\u00a00"}]},"mark":{"type":"text","fill":"#ff0000","fontSize":10.5},"encoding":{"x":{"datum":176.5},"y":{"datum":0.9805},"text":{"field":"t"}}},
{"data":{"values":[{"t":"Stop B/S:\u00a0\u00a00\u00a0-\u00a00"}]},"mark":{"type":"text","fill":"#ff0000","fontSize":10.5},"encoding":{"x":{"datum":197.25},"y":{"datum":0.9805},"text":{"field":"t"}}},
{"data":{"values":[{"t":"Limit B/S:\u00a0\u00a00\u00a0-\u00a00"}]},"mark":{"type":"text","fill":"#ff0000","fontSize":10.5},"encoding":{"x":{"datum":218.5},"y":{"datum":0.9805},"text":{"field":"t"}}},
{"data":{"values":[{"t":"sell"}]},"mark":{"type":"point","shape":"M-.4,-1 H.4 V-.05 H.8 L0,1 L-.8,-.05 H-.4 Z","fill":"transparent","stroke":"#ffff00","strokeWidth":1,"size":361,"opacity":1},"encoding":{"x":{"datum":131},"y":{"datum":1.00862}}}
]},
{"width":949,"height":46,"resolve":{"scale":{"y":"independent"},"axis":{"y":"independent"}},"layer":[
{"layer":[
{"data":{"name":"bars"},"mark":{"type":"bar","size":4},"encoding":{"x":{"field":"i","type":"quantitative","title":null,"scale":{"domain":[0,237.25],"nice":false,"zero":false,"padding":0}},"y":{"field":"ao","type":"quantitative","title":null,"stack":null,"scale":{"domain":[-0.01445,0.01407],"nice":false,"zero":false},"axis":{"orient":"right","title":null,"values":[0.00912,0,-0.01071],"labelFontSize":9,"labelPadding":0,"labelExpr":"datum.value==0?'0.00':format(datum.value,'.5f')"}},"fill":{"field":"ac","type":"nominal","legend":null,"scale":{"domain":["g","r"],"range":["#008000","#ff0000"]}}}}
]},
{"layer":[
{"data":{"values":[{"lv":90},{"lv":80},{"lv":20},{"lv":10}]},"mark":{"type":"rule","stroke":"#d0d0d0","strokeDash":[4,3],"strokeWidth":1},"encoding":{"y":{"field":"lv","type":"quantitative","title":null,"scale":{"domain":[-3.5,103.5],"nice":false,"zero":false},"axis":{"orient":"right","title":null,"values":[90,80,50,20,10],"labelFontSize":9,"labelPadding":0}}}},
{"data":{"values":[{"lv":50}]},"mark":{"type":"rule","stroke":"#ffff00","strokeDash":[4,3],"strokeWidth":2},"encoding":{"y":{"field":"lv","type":"quantitative"}}},
{"data":{"name":"weeks"},"mark":{"type":"rule","stroke":"#ffffff","strokeDash":[3,3],"strokeWidth":1},"encoding":{"x":{"field":"i","type":"quantitative"}}},
{"data":{"name":"fast"},"mark":{"type":"line","stroke":"#20b2aa","strokeWidth":1,"interpolate":"monotone"},"encoding":{"x":{"field":"i","type":"quantitative"},"y":{"field":"v","type":"quantitative"}}},
{"data":{"name":"slow"},"mark":{"type":"line","stroke":"#ff0000","strokeWidth":1,"interpolate":"monotone"},"encoding":{"x":{"field":"i","type":"quantitative"},"y":{"field":"v","type":"quantitative"}}},
{"data":{"values":[{"t":"AO -0.00148"}]},"mark":{"type":"text","fill":"#ffffff","fontSize":10},"encoding":{"x":{"datum":1},"y":{"datum":82.6},"text":{"field":"t"}}}
]}
]},
{"width":949,"height":16,"layer":[
{"data":{"name":"weeks"},"mark":{"type":"rule","stroke":"#ffffff","strokeDash":[3,3],"strokeWidth":1},"encoding":{"x":{"field":"i","type":"quantitative","title":null,"scale":{"domain":[0,237.25],"nice":false,"zero":false,"padding":0},"axis":{"title":null,"orient":"bottom","labels":true,"ticks":true,"values":[0,16,32,48,64,80,96,112,128,144,160,176],"labelAlign":"left","labelPadding":2,"labelFontSize":9,"labelExpr":"({'0':'14 Mar 2017','16':'17 Mar 12:00','32':'22 Mar 04:00','48':'24 Mar 20:00','64':'29 Mar 12:00','80':'3 Apr 04:00','96':'5 Apr 20:00','112':'10 Apr 12:00','128':'13 Apr 04:00','144':'17 Apr 20:00','160':'20 Apr 12:00','176':'25 Apr 04:00'})[datum.value]"}}}},
{"data":{"name":"bars"},"mark":{"type":"bar","size":3.5},"encoding":{"x":{"field":"i","type":"quantitative"},"y":{"field":"v","type":"quantitative","stack":null,"title":null,"scale":{"domain":[0,11800],"nice":false,"zero":false},"axis":{"orient":"right","title":null,"values":[5533.5,0],"format":".1f"}},"fill":{"field":"vc","type":"nominal","legend":null,"scale":{"domain":["n","g","r","w","y"],"range":["#404040","#00ff00","#ff0000","#ffffff","#ffff00"]}}}},
{"data":{"values":[{"t":"Better Volume 1.5 0.0000 0.0000 217.0000 0.0000 0.0000 0.0000 1376.0000"}]},"mark":{"type":"text","fill":"#ffffff","fontSize":9.3},"encoding":{"x":{"datum":1},"y":{"datum":4800},"text":{"field":"t"}}}
]}
]}
